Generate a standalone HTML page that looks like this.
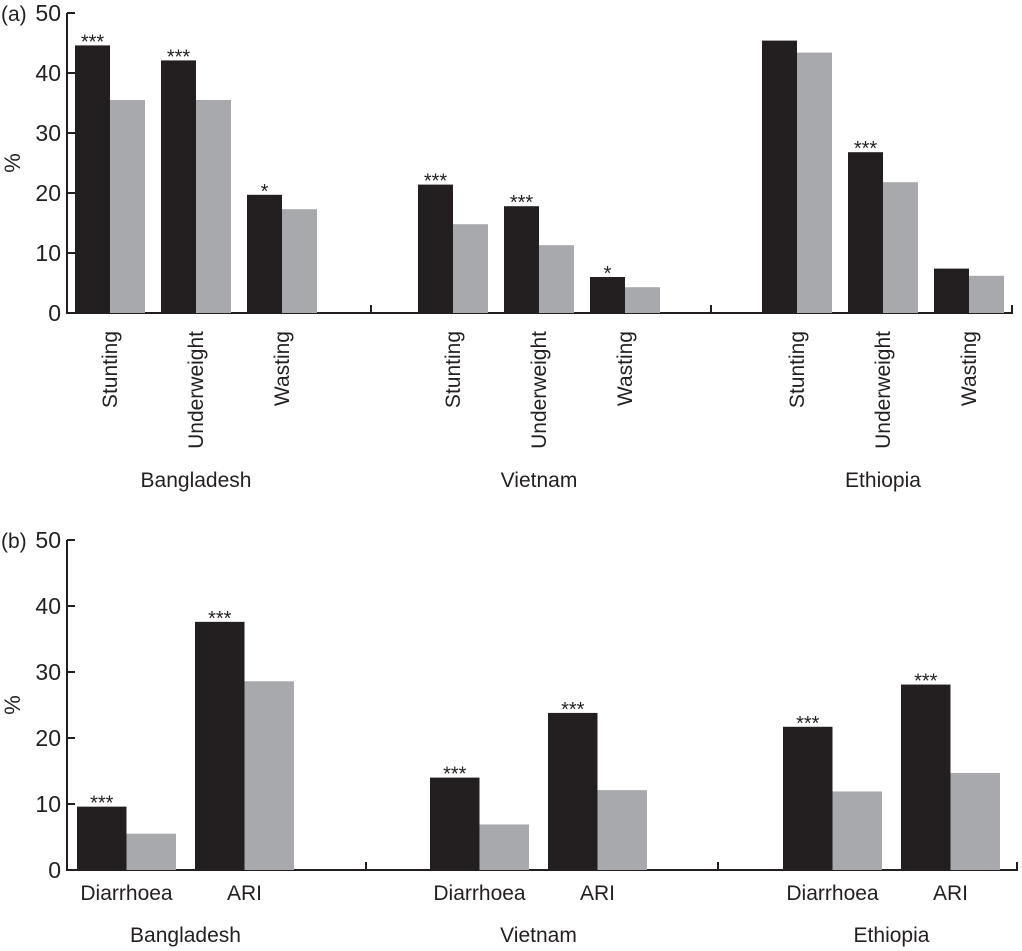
<!DOCTYPE html>
<html><head><meta charset="utf-8"><style>
body{margin:0;background:#fff;}
svg{display:block;font-family:"Liberation Sans",Arial,sans-serif;}
</style></head><body>
<svg id="chart" width="1022" height="951" viewBox="0 0 1022 951"></svg>
<script>
// Panel (a) data
const aCountries = ["Bangladesh", "Vietnam", "Ethiopia"];
const aCategories = ["Stunting", "Underweight", "Wasting"];
const aBlack = [[44.6, 42.1, 19.7], [21.4, 17.8, 6.0], [45.4, 26.8, 7.4]];
const aGray = [[35.5, 35.5, 17.3], [14.8, 11.3, 4.3], [43.4, 21.8, 6.2]];
const aSig = [["***", "***", "*"], ["***", "***", "*"], ["", "***", ""]];
// Panel (b) data
const bCountries = ["Bangladesh", "Vietnam", "Ethiopia"];
const bCategories = ["Diarrhoea", "ARI"];
const bBlack = [[9.6, 37.6], [14.0, 23.8], [21.7, 28.1]];
const bGray = [[5.5, 28.6], [6.9, 12.1], [11.9, 14.7]];
const bSig = [["***", "***"], ["***", "***"], ["***", "***"]];
const yTicks = [0, 10, 20, 30, 40, 50];

const svg = document.getElementById('chart');
const NS = 'http://www.w3.org/2000/svg';
function mk(tag, attrs, parent) {
  const e = document.createElementNS(NS, tag);
  for (const k in attrs) e.setAttribute(k, attrs[k]);
  (parent || svg).appendChild(e);
  return e;
}

function panel(cfg) {
  const g = mk('g', {});
  
  
  const y = v => cfg.y0 - v / 50 * (cfg.y0 - cfg.y50);
  const ax = mk('line', {x1: cfg.axX, y1: cfg.y50, x2: cfg.axX, y2: cfg.y0, stroke: '#231f20', 'stroke-width': 2}, g);
  
  
  const bx = mk('line', {x1: cfg.axX - 1, y1: cfg.y0, x2: cfg.xEnd, y2: cfg.y0, stroke: '#231f20', 'stroke-width': 2}, g);
  
  
  cfg.seps.forEach(sx => {
    const t = mk('line', {x1: sx, y1: cfg.y0, x2: sx, y2: cfg.y0 - 8, stroke: '#231f20', 'stroke-width': 2}, g);
    
    
  });
  yTicks.forEach(v => {
    const t = mk('line', {x1: cfg.axX, y1: y(v), x2: cfg.axX + 8, y2: y(v), stroke: '#231f20', 'stroke-width': 2}, g);
    
    
    const l = mk('text', {x: cfg.axX - 6, y: y(v) + 8, 'font-size': 23, 'text-anchor': 'end', fill: '#231f20'}, g);
    l.textContent = v;
    
    
  });
  const pl = mk('text', {x: 1, y: cfg.y50 + 8, 'font-size': 21, fill: '#231f20'}, g);
  pl.textContent = cfg.label;
  
  
  const ylab = mk('text', {x: 0, y: 0, 'font-size': 22, 'text-anchor': 'middle', fill: '#231f20', transform: `translate(20,${(cfg.y0 + cfg.y50) / 2}) rotate(-90)`}, g);
  ylab.textContent = '%';
  
  

  cfg.countries.forEach((c, ci) => {
    cfg.cats.forEach((cat, k) => {
      const x0 = cfg.groupStart[ci] + k * cfg.step;
      const vb = cfg.black[ci][k], vg = cfg.gray[ci][k];
      const r1 = mk('rect', {x: x0, y: y(vb), width: cfg.bw, height: cfg.y0 - y(vb), fill: '#231f20'}, g);
      
      
      const r2 = mk('rect', {x: x0 + cfg.bw, y: y(vg), width: cfg.bw, height: cfg.y0 - y(vg), fill: '#a7a9ac'}, g);
      
      
      if (cfg.sig[ci][k]) {
        const s = mk('text', {x: x0 + cfg.bw / 2, y: y(vb) + 3, 'font-size': 20, 'text-anchor': 'middle', fill: '#231f20'}, g);
        s.textContent = cfg.sig[ci][k];
        
        
      }
      const cx = x0 + cfg.bw;
      let t;
      if (cfg.rotated) {
        t = mk('text', {x: 0, y: 0, 'font-size': 21, 'text-anchor': 'end', fill: '#231f20', transform: `translate(${cx + 7},${cfg.y0 + 18}) rotate(-90)`}, g);
      } else {
        t = mk('text', {x: cx, y: cfg.catY, 'font-size': 21, 'text-anchor': 'middle', fill: '#231f20'}, g);
      }
      t.textContent = cat;
      
      
    });
    const mid = cfg.groupStart[ci] + ((cfg.cats.length - 1) * cfg.step + 2 * cfg.bw) / 2;
    const ct = mk('text', {x: mid, y: cfg.countryY, 'font-size': 21, 'text-anchor': 'middle', fill: '#231f20'}, g);
    ct.textContent = c;
    
    
  });
}

panel({name: 'panel-a', label: '(a)', axX: 67, y0: 313, y50: 13, xEnd: 1013, seps: [371, 711, 1012],
  countries: aCountries, cats: aCategories, black: aBlack, gray: aGray, sig: aSig,
  groupStart: [75, 418, 762], step: 86, bw: 35, rotated: true, countryY: 487});
panel({name: 'panel-b', label: '(b)', axX: 67, y0: 870, y50: 540, xEnd: 1018, seps: [366, 718, 1017],
  countries: bCountries, cats: bCategories, black: bBlack, gray: bGray, sig: bSig,
  groupStart: [77, 430, 783], step: 118, bw: 49.5, rotated: false, catY: 900, countryY: 942});
</script>
</body></html>
